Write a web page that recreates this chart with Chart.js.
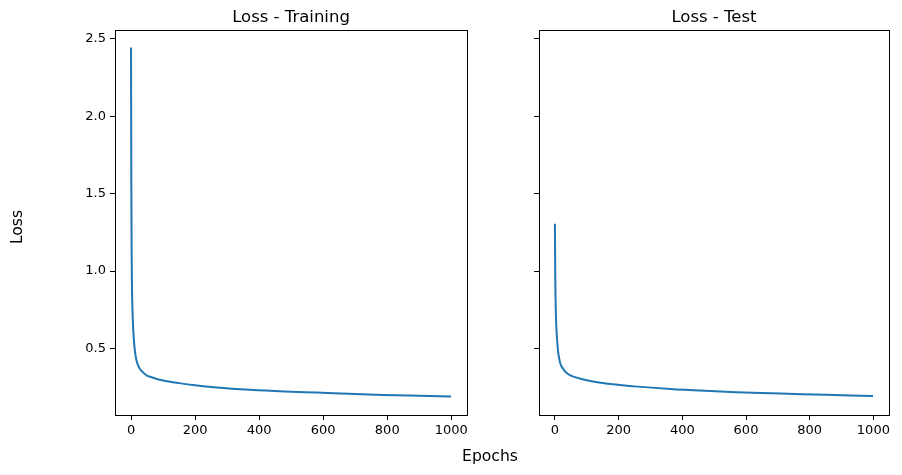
<!DOCTYPE html>
<html>
<head>
<meta charset="utf-8">
<script src="https://cdn.jsdelivr.net/npm/chart.js@4/dist/chart.umd.min.js"></script>
<style>
  html, body { margin: 0; padding: 0; background: #fff; }
  #wrap { position: relative; width: 902px; height: 475px; }
  #wrap canvas { position: absolute; left: 0; top: 0; }
</style>
</head>
<body>
<div id="wrap">
  <canvas id="trainChart" width="902" height="475"></canvas>
  <canvas id="testChart" width="902" height="475"></canvas>
</div>
<script>
// Loss values
const trainEpochs = [0, 1, 2, 3, 5, 7, 10, 13, 18, 25, 35, 50, 60, 80, 100, 150, 200, 267, 371, 480, 578, 700, 786, 900, 999];
const trainLoss = [2.445, 1.55, 1.1, 0.9, 0.72, 0.62, 0.53, 0.47, 0.415, 0.378, 0.35, 0.325, 0.317, 0.303, 0.293, 0.276, 0.262, 0.248, 0.233, 0.222, 0.215, 0.206, 0.200, 0.194, 0.189];

const testEpochs = [0, 1, 2, 3, 5, 7, 10, 16, 25, 35, 50, 66, 100, 160, 250, 362, 470, 570, 680, 777, 900, 999];
const testLoss = [1.306, 0.98, 0.82, 0.72, 0.62, 0.55, 0.48, 0.41, 0.37, 0.345, 0.325, 0.313, 0.294, 0.273, 0.255, 0.238, 0.226, 0.217, 0.210, 0.204, 0.198, 0.193];

const xTicks = [0, 200, 400, 600, 800, 1000];
const yTicks = [0.5, 1.0, 1.5, 2.0, 2.5];
const titles = ['Loss - Training', 'Loss - Test'];

Chart.defaults.font.family = '"DejaVu Sans", sans-serif';
Chart.defaults.font.size = 13;
Chart.defaults.color = '#000';

// frame around the plot area + subplot title
const framePlugin = {
    id: 'frame',
    afterDraw(chart, args, opts) {
        const a = chart.chartArea;
        const ctx = chart.ctx;
        ctx.save();
        ctx.strokeStyle = '#000';
        ctx.lineWidth = 1;
        ctx.strokeRect(Math.round(a.left) + 0.5, Math.round(a.top) + 0.5,
            Math.round(a.right - a.left), Math.round(a.bottom - a.top));
        ctx.fillStyle = '#000';
        ctx.font = '16.5px "DejaVu Sans", sans-serif';
        ctx.textAlign = 'center';
        ctx.textBaseline = 'alphabetic';
        ctx.fillText(opts.title, (a.left + a.right) / 2, 22);
        if (opts.supLabels) {
            ctx.font = '15.6px "DejaVu Sans", sans-serif';
            ctx.fillText('Epochs', 490, 461);
            ctx.translate(18, 227);
            ctx.rotate(-Math.PI / 2);
            ctx.textBaseline = 'middle';
            ctx.fillText('Loss', 0, 0);
        }
        ctx.restore();
    }
};

function makeChart(id, epochs, loss, title, yWidth, rightPad, showYLabels) {
    const points = epochs.map((e, i) => ({ x: e, y: loss[i] }));
    return new Chart(document.getElementById(id), {
        type: 'line',
        data: {
            datasets: [{
                data: points,
                borderColor: '#1f77b4',
                borderWidth: 2,
                pointRadius: 0,
                fill: false,
                cubicInterpolationMode: 'monotone'
            }]
        },
        options: {
            responsive: false,
            animation: false,
            layout: { padding: { top: 30, right: rightPad, bottom: 0, left: 0 } },
            plugins: {
                legend: { display: false },
                tooltip: { enabled: false },
                frame: { title: title, supLabels: showYLabels }
            },
            scales: {
                x: {
                    type: 'linear',
                    min: -50,
                    max: 1049,
                    afterBuildTicks: s => { s.ticks = xTicks.map(v => ({ value: v })); },
                    afterFit: s => { s.height = 60; },
                    border: { display: false },
                    grid: { drawOnChartArea: false, drawTicks: true, tickLength: 5, color: '#000' },
                    ticks: { padding: 3, maxRotation: 0, callback: v => String(v) }
                },
                y: {
                    type: 'linear',
                    min: 0.07,
                    max: 2.558,
                    afterBuildTicks: s => { s.ticks = yTicks.map(v => ({ value: v })); },
                    afterFit: s => { s.width = yWidth; },
                    border: { display: false },
                    grid: { drawOnChartArea: false, drawTicks: true, tickLength: 5, color: '#000' },
                    ticks: { padding: 4, callback: v => showYLabels ? v.toFixed(1) : '' }
                }
            }
        },
        plugins: [framePlugin]
    });
}

makeChart('trainChart', trainEpochs, trainLoss, titles[0], 115, 902 - 467, true);
makeChart('testChart', testEpochs, testLoss, titles[1], 539, 902 - 889, false);
</script>
</body>
</html>
